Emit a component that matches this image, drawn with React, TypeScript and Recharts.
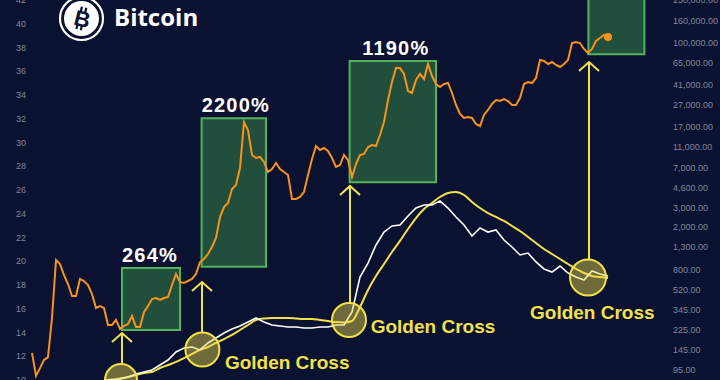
import React from 'react';
import { ComposedChart, Line, XAxis, YAxis, ReferenceArea, ReferenceLine, ReferenceDot } from 'recharts';

const BG = '#0b1130';
const ORANGE = '#f7931a';
const YELLOW = '#f2e24a';

// Bitcoin price (USD), one value per ~month, starting mid-2013
const prices = [
  137, 84, 99, 118, 125, 288, 988, 908, 718, 593,
  460, 460, 660, 632, 581, 479, 356, 371, 356, 248,
  248, 276, 228, 243, 253, 300, 238, 238, 327, 371,
  431, 440, 422, 440, 450, 581, 734, 619, 606, 632,
  660, 734, 947, 1010, 1123, 1303, 1579, 2468, 3053, 3324,
  4479, 4877, 7002, 18640, 15720, 9236, 8662, 8850, 7957, 6431,
  6855, 7788, 6855, 6431, 6032, 3621, 3621, 3778, 4202, 6032,
  8481, 11180, 10270, 10720, 10055, 8662, 7153, 7464, 9236, 8303,
  5782, 7625, 9236, 9434, 10950, 11425, 11180, 14140, 18640, 29760,
  43670, 58830, 58830, 51760, 36060, 34550, 45560, 51760, 46540, 64030,
  49610, 41840, 39260, 41840, 42740, 34550, 26760, 22100, 20300, 20730,
  20300, 17860, 17120, 21640, 24060, 27340, 29760, 29140, 30410, 29140,
  26760, 26760, 31070, 41840, 43670, 42740, 47540, 69710, 68250, 64030,
  66820, 62700, 60080, 64030, 69710, 100100, 102300, 100100, 88150, 80940,
  88150, 104500, 111400, 118700, 113800,
];

// indicator lines (left scale), one value every 2 months starting at month 18
const indicatorStart = 18;
const indicatorStep = 2;
const whiteLine = [
  10.0, 10.0, 10.08, 10.25, 10.51, 10.67, 10.84, 11.26, 11.68, 12.36,
  12.69, 12.78, 12.53, 13.12, 13.54, 13.96, 14.29, 14.55, 14.88, 15.22,
  14.88, 14.63, 14.55, 14.46, 14.46, 14.38, 14.38, 14.46, 14.46, 14.63,
  14.63, 15.73, 18.67, 19.85, 21.37, 22.46, 22.97, 23.05, 23.81, 24.48,
  24.74, 24.74, 25.07, 24.48, 23.73, 23.05, 22.13, 22.8, 22.46, 22.63,
  21.79, 21.2, 20.53, 20.69, 19.94, 19.35, 19.09, 19.6, 19.01, 18.67,
  18.42, 19.18, 18.93, 18.76,
];
const yellowLine = [
  10.0, 10.04, 10.13, 10.25, 10.42, 10.59, 10.67, 11.01, 11.26, 11.52,
  11.85, 12.19, 12.53, 12.78, 13.12, 13.45, 13.79, 14.21, 14.63, 15.05,
  15.18, 15.22, 15.22, 15.22, 15.18, 15.14, 15.14, 15.05, 14.97, 14.88,
  14.84, 14.97, 16.15, 17.58, 18.76, 19.77, 20.78, 21.71, 22.72, 23.64,
  24.4, 24.91, 25.41, 25.75, 25.83, 25.58, 24.99, 24.48, 24.06, 23.73,
  23.39, 22.97, 22.55, 22.04, 21.54, 21.03, 20.61, 20.19, 19.77, 19.35,
  19.01, 18.76, 18.67, 18.59,
];

const leftTicks = [10, 12, 14, 16, 18, 20, 22, 24, 26, 28, 30, 32, 34, 36, 38, 40, 42];
const priceTicks = [95, 145, 225, 345, 520, 800, 1300, 2000, 3000, 4600, 7000, 11000, 17000, 27000, 41000, 65000, 100000, 160000, 250000];

// rally boxes: month range and price range
const boxStart = [22.5, 42.4, 79.4, 139.1];
const boxEnd = [37, 58.5, 101, 153.1];
const boxLow = [223, 857, 5166, 78730];
const boxHigh = [834, 20170, 68250, 400000];
const boxLabels = ['264%', '2200%', '1190%', ''];

// golden cross points (month, left-scale value)
const crossIdx = [22.25, 42.6, 79.25, 139];
const crossVal = [10, 12.57, 15.05, 18.63];
const crossHasLabel = [false, true, true, true];

// arrows: month, from value, to value (left scale)
const arrowIdx = [22.5, 42.5, 79.5, 139.25];
const arrowFrom = [11.35, 13.96, 16.48, 20.1];
const arrowTo = [13.96, 18.25, 26.34, 36.78];

const priceData = prices.map((v, i) => ({ i, v }));
const whiteData = whiteLine.map((v, k) => ({ i: indicatorStart + k * indicatorStep, v }));
const yellowData = yellowLine.map((v, k) => ({ i: indicatorStart + k * indicatorStep, v }));

const tickStyle = { fill: '#80869a', fontSize: 9, fontFamily: 'Liberation Sans, Arial, sans-serif' };
const fmt = (v: number) => v.toLocaleString('en-US', { minimumFractionDigits: 2, maximumFractionDigits: 2 });

const crossLabelOffsets = [
  null,
  { dx: 22.5, dy: 19.5 },
  { dx: 21.7, dy: 13.3 },
  { dx: -58, dy: 41 },
];
const boxLabelDx = [-1, 2, 3, 0];

const ArrowShape = (props: any) => {
  const { x1, y1, x2, y2 } = props;
  const tipY = Math.min(y1, y2);
  const baseY = Math.max(y1, y2);
  const x = x1;
  return (
    <g>
      <line x1={x} y1={baseY} x2={x2} y2={tipY} stroke={YELLOW} strokeWidth={2} />
      <polyline
        points={`${x - 10},${tipY + 9} ${x},${tipY} ${x + 10},${tipY + 9}`}
        fill="none"
        stroke={YELLOW}
        strokeWidth={2}
      />
    </g>
  );
};

const endDot = (props: any) => {
  const { cx, cy, index } = props;
  if (index === prices.length - 1) {
    return <circle key={`d${index}`} cx={cx} cy={cy} r={4} fill={ORANGE} />;
  }
  return <g key={`d${index}`} />;
};

export default function App() {
  return (
    <div style={{ width: 720, height: 380, background: BG, position: 'relative', overflow: 'hidden' }}>
      <style>{'html,body{margin:0;padding:0;background:#0b1130}'}</style>
      <ComposedChart width={720} height={380} margin={{ top: 0, right: 0, bottom: 0, left: 0 }}>
        <XAxis type="number" dataKey="i" domain={[-0.5, 158.25]} hide allowDataOverflow />
        <YAxis
          yAxisId="left"
          orientation="left"
          type="number"
          domain={[10, 42]}
          ticks={leftTicks}
          width={30}
          interval={0}
          axisLine={false}
          tickLine={false}
          tickSize={0}
          tickMargin={4}
          tick={tickStyle}
          allowDataOverflow
        />
        <YAxis
          yAxisId="price"
          orientation="right"
          type="number"
          scale="log"
          domain={[76.9, 250000]}
          ticks={priceTicks}
          width={55}
          interval={0}
          axisLine={false}
          tickLine={false}
          tickSize={0}
          tickMargin={8}
          tick={tickStyle}
          tickFormatter={fmt}
          allowDataOverflow
        />
        {boxStart.map((s, k) => (
          <ReferenceArea
            key={`box${k}`}
            yAxisId="price"
            x1={s}
            x2={boxEnd[k]}
            y1={boxLow[k]}
            y2={boxHigh[k]}
            ifOverflow="hidden"
            fill="#2c6a40"
            fillOpacity={0.7}
            stroke="#52b45a"
            strokeWidth={2}
            strokeOpacity={1}
            label={
              boxLabels[k]
                ? (p: any) => {
                    const vb = p.viewBox || {};
                    return (
                      <text
                        x={vb.x + vb.width / 2 + boxLabelDx[k]}
                        y={vb.y - 6}
                        textAnchor="middle"
                        fill="#ffffff"
                        fontSize={20}
                        fontWeight={700}
                        letterSpacing={1.2}
                        fontFamily="Liberation Sans, Arial, sans-serif"
                      >
                        {boxLabels[k]}
                      </text>
                    );
                  }
                : undefined
            }
          />
        ))}
        <Line yAxisId="left" data={yellowData} dataKey="v" type="monotone" stroke={YELLOW} strokeWidth={2} dot={false} isAnimationActive={false} />
        <Line yAxisId="left" data={whiteData} dataKey="v" type="linear" stroke="#ffffff" strokeWidth={1.6} dot={false} isAnimationActive={false} />
        <Line yAxisId="price" data={priceData} dataKey="v" type="linear" stroke={ORANGE} strokeWidth={2} dot={endDot} isAnimationActive={false} />
        {arrowIdx.map((a, k) => (
          <ReferenceLine
            key={`ar${k}`}
            yAxisId="left"
            segment={[{ x: a, y: arrowFrom[k] }, { x: a, y: arrowTo[k] }]}
            shape={ArrowShape}
          />
        ))}
        {crossIdx.map((c, k) => (
          <ReferenceDot
            key={`cr${k}`}
            yAxisId="left"
            x={c}
            y={crossVal[k]}
            r={k === 0 ? 16 : k === 3 ? 18 : 17}
            fill="#e8d84a"
            fillOpacity={0.45}
            stroke={YELLOW}
            strokeWidth={2}
            ifOverflow="visible"
            label={
              crossHasLabel[k]
                ? (p: any) => {
                    const vb = p.viewBox || {};
                    const cx = vb.x + vb.width / 2;
                    const cy = vb.y + vb.height / 2;
                    const o = crossLabelOffsets[k]!;
                    return (
                      <text
                        x={cx + o.dx}
                        y={cy + o.dy}
                        fill={YELLOW}
                        fontSize={19}
                        fontWeight={700}
                        fontFamily="Liberation Sans, Arial, sans-serif"
                      >
                        Golden Cross
                      </text>
                    );
                  }
                : undefined
            }
          />
        ))}
      </ComposedChart>
      <svg width={220} height={50} style={{ position: 'absolute', left: 0, top: 0 }}>
        <circle cx={81.5} cy={18.5} r={21.5} fill="none" stroke="#ffffff" strokeWidth={2.2} />
        <circle cx={81.5} cy={18.5} r={17.5} fill="#ffffff" />
        <g transform="rotate(14 81.5 18.5)">
          <text x={82.5} y={26.5} textAnchor="middle" fontSize={22} fontWeight={700} fill={BG} fontFamily="Liberation Sans, Arial, sans-serif">B</text>
          <rect x={78} y={7} width={2.2} height={4.5} fill={BG} />
          <rect x={82.5} y={7} width={2.2} height={4.5} fill={BG} />
          <rect x={78} y={25.5} width={2.2} height={4.5} fill={BG} />
          <rect x={82.5} y={25.5} width={2.2} height={4.5} fill={BG} />
        </g>
        <text x={114} y={26} fill="#ffffff" fontSize={24} fontWeight={700} fontFamily="Open Sans, Liberation Sans, sans-serif">Bitcoin</text>
      </svg>
    </div>
  );
}
